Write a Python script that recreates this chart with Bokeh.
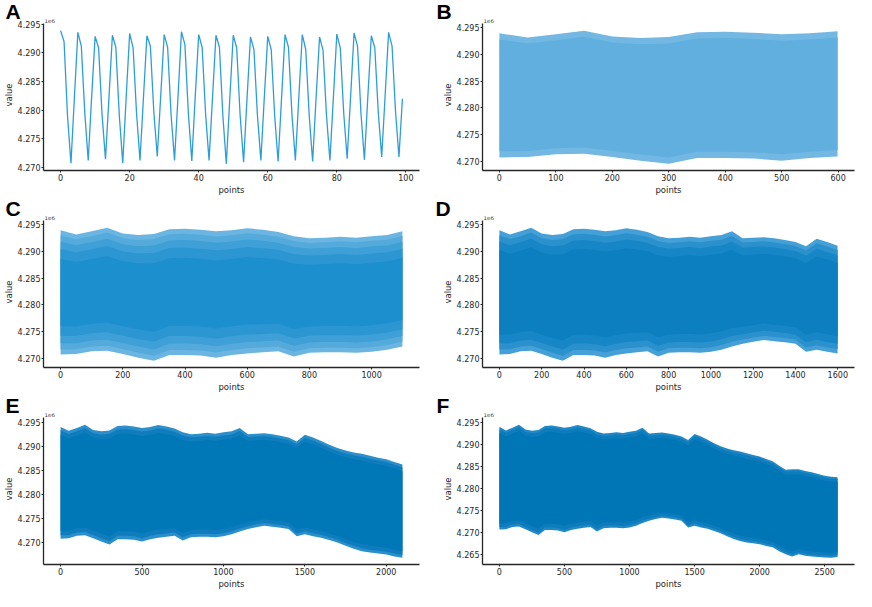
import numpy as np
from bokeh.plotting import figure
from bokeh.layouts import column, row
from bokeh.models import Range1d, SingleIntervalTicker, PrintfTickFormatter, Label
from bokeh.embed import file_html
from bokeh.resources import INLINE

# ---------------- data (values in units of 1e6) ----------------
panel_letters = ["A", "B", "C", "D", "E", "F"]
panel_lengths = [100, 600, 1100, 1600, 2100, 2600]
x_tick_steps = [20, 100, 200, 200, 500, 500]
y_tick_step = 0.005
offset_text = "1e6"
x_label = "points"
y_label = "value"

# first 100 points
series_a = [
    4.2939, 4.2920, 4.2790, 4.2707, 4.2822,
    4.2936, 4.2912, 4.2796, 4.2712, 4.2824,
    4.2929, 4.2909, 4.2793, 4.2714, 4.2821,
    4.2931, 4.2910, 4.2791, 4.2707, 4.2823,
    4.2934, 4.2909, 4.2794, 4.2712, 4.2822,
    4.2930, 4.2912, 4.2797, 4.2719, 4.2825,
    4.2932, 4.2910, 4.2792, 4.2712, 4.2823,
    4.2937, 4.2915, 4.2795, 4.2711, 4.2824,
    4.2932, 4.2910, 4.2793, 4.2712, 4.2822,
    4.2931, 4.2910, 4.2790, 4.2706, 4.2820,
    4.2931, 4.2909, 4.2791, 4.2709, 4.2821,
    4.2928, 4.2906, 4.2792, 4.2712, 4.2822,
    4.2929, 4.2906, 4.2790, 4.2710, 4.2821,
    4.2932, 4.2910, 4.2793, 4.2712, 4.2823,
    4.2932, 4.2906, 4.2791, 4.2710, 4.2822,
    4.2928, 4.2905, 4.2792, 4.2712, 4.2821,
    4.2933, 4.2909, 4.2795, 4.2715, 4.2824,
    4.2935, 4.2912, 4.2794, 4.2713, 4.2825,
    4.2930, 4.2909, 4.2797, 4.2718, 4.2826,
    4.2936, 4.2912, 4.2798, 4.2718, 4.2820,
]

# envelope (peaks / troughs) of the long series, read every 50 points
env_points = list(range(0, 2601, 50))
env_upper = [
    4.2940, 4.2932, 4.2938, 4.2945, 4.2934, 4.2931, 4.2933, 4.2942, 4.2943, 4.2941,
    4.2938, 4.2940, 4.2944, 4.2941, 4.2937, 4.2929, 4.2925, 4.2926, 4.2928, 4.2926,
    4.2929, 4.2931, 4.2938, 4.2925, 4.2926, 4.2927, 4.2925, 4.2922, 4.2918, 4.2910,
    4.2924, 4.2918, 4.2911, 4.2903, 4.2896, 4.2891, 4.2887, 4.2884, 4.2880, 4.2876,
    4.2873, 4.2867, 4.2862, 4.2852, 4.2843, 4.2844, 4.2844, 4.2840, 4.2837, 4.2833,
    4.2829, 4.2827, 4.2826,
]
env_lower = [
    4.2707, 4.2708, 4.2713, 4.2714, 4.2708, 4.2701, 4.2695, 4.2706, 4.2706, 4.2705,
    4.2701, 4.2706, 4.2709, 4.2711, 4.2713, 4.2703, 4.2710, 4.2711, 4.2711, 4.2710,
    4.2712, 4.2716, 4.2722, 4.2727, 4.2731, 4.2734, 4.2732, 4.2730, 4.2727, 4.2712,
    4.2716, 4.2712, 4.2709, 4.2704, 4.2699, 4.2692, 4.2686, 4.2681, 4.2678, 4.2676,
    4.2674, 4.2670, 4.2667, 4.2658, 4.2651, 4.2646, 4.2651, 4.2648, 4.2646, 4.2645,
    4.2644, 4.2643, 4.2645,
]

# ---------------- styling ----------------
AX = "#262626"
FONT = "DejaVu Sans"
LINE_COLOR = "#2b9ed8"
# shading layers: (inset as share of band width, colour)
band_layers = {
    "B": [(0.0, "#72b8e2"), (0.05, "#60afde")],
    "C": [(0.0, "#6ab5e1"), (0.04, "#55aadc"), (0.09, "#3f9fd7"),
          (0.15, "#2c96d3"), (0.23, "#1c8fcf")],
    "D": [(0.0, "#45a0d7"), (0.04, "#2a91cd"), (0.09, "#1786c6"),
          (0.16, "#0c7fc0")],
    "E": [(0.0, "#2a8fca"), (0.03, "#0f7dbd"), (0.07, "#0077b7")],
    "F": [(0.0, "#2088c6"), (0.025, "#0d7cbc"), (0.06, "#0076b6")],
}

ROW_H = 197
HEADROOM = 4.5 / 147.0   # space above the axes top, as a share of the axes height
# per panel: figure width, border left, right, letter offset
geom = {
    "A": (428, 38, 9, -38),
    "B": (428, 54, 2, -46),
    "C": (428, 38, 9, -38),
    "D": (428, 54, 2, -47),
    "E": (428, 38, 9, -38),
    "F": (428, 54, 2, -46),
}


def make_panel(i):
    letter = panel_letters[i]
    n = panel_lengths[i]
    w, bl, br, lx = geom[letter]
    if letter == "A":
        xs = np.arange(n)
        ys_all = np.array(series_a)
        ymin, ymax = ys_all.min(), ys_all.max()
    else:
        pts = np.array(env_points)
        m = pts <= n
        xs = np.minimum(pts[m], n - 1)
        up = np.array(env_upper)[m]
        lo = np.array(env_lower)[m]
        ymin, ymax = lo.min(), up.max()
    last = n - 1
    yr = ymax - ymin
    y_lo = ymin - 0.05 * yr
    y_hi = ymax + 0.05 * yr
    x_lo = -0.05 * last
    p = figure(
        width=w, height=ROW_H,
        x_range=Range1d(x_lo, last * 1.05),
        y_range=Range1d(y_lo, y_hi + HEADROOM * (y_hi - y_lo)),
        output_backend="svg", toolbar_location=None,
        min_border_left=bl, min_border_right=br,
        min_border_top=0, min_border_bottom=0,
    )
    p.grid.visible = False
    p.outline_line_color = None
    p.background_fill_color = "white"
    p.border_fill_color = "white"

    if letter == "A":
        p.line(xs, series_a, line_color=LINE_COLOR, line_width=1.3)
    else:
        d = up - lo
        for f, col in band_layers[letter]:
            p.varea(x=xs, y1=lo + f * d, y2=up - f * d, fill_color=col)

    for ax in (p.xaxis[0], p.yaxis[0]):
        ax.axis_line_color = AX
        ax.axis_line_width = 1.3
        ax.major_tick_line_color = AX
        ax.major_tick_line_width = 1
        ax.major_tick_out = 2
        ax.major_tick_in = 0
        ax.minor_tick_line_color = None
        ax.major_label_text_font = FONT
        ax.major_label_text_font_size = "8px"
        ax.major_label_text_color = AX
        ax.major_label_text_line_height = 1.0
        ax.major_label_standoff = 1
        ax.axis_label_text_font = FONT
        ax.axis_label_text_font_size = "8.5px"
        ax.axis_label_text_font_style = "normal"
        ax.axis_label_text_color = AX
        ax.axis_label_text_line_height = 1.0
        ax.axis_label_standoff = 1
    p.yaxis.bounds = (y_lo, y_hi)
    p.xaxis.ticker = SingleIntervalTicker(interval=x_tick_steps[i], num_minor_ticks=0)
    p.yaxis.ticker = SingleIntervalTicker(interval=y_tick_step, num_minor_ticks=0)
    p.yaxis.formatter = PrintfTickFormatter(format="%.3f")
    p.xaxis.axis_label = x_label
    p.yaxis.axis_label = y_label

    # panel letter as title, pulled down next to the frame
    p.title.text = letter
    p.title.align = "left"
    p.title.offset = lx
    p.title.standoff = -6
    p.title.text_font = "Liberation Sans"
    p.title.text_font_size = "21px"
    p.title.text_font_style = "bold"
    p.title.text_color = "black"
    # offset text just above the top of the y axis
    p.add_layout(Label(x=x_lo, y=y_hi, x_offset=1, y_offset=1, text=offset_text,
                       text_font=FONT, text_font_size="5.5px", text_color="#333333",
                       text_baseline="bottom", text_align="left"))
    return p


panels = [make_panel(i) for i in range(6)]
layout = column(row(panels[0], panels[1]), row(panels[2], panels[3]),
                row(panels[4], panels[5]))

open("out.html", "w").write(file_html(layout, INLINE))
